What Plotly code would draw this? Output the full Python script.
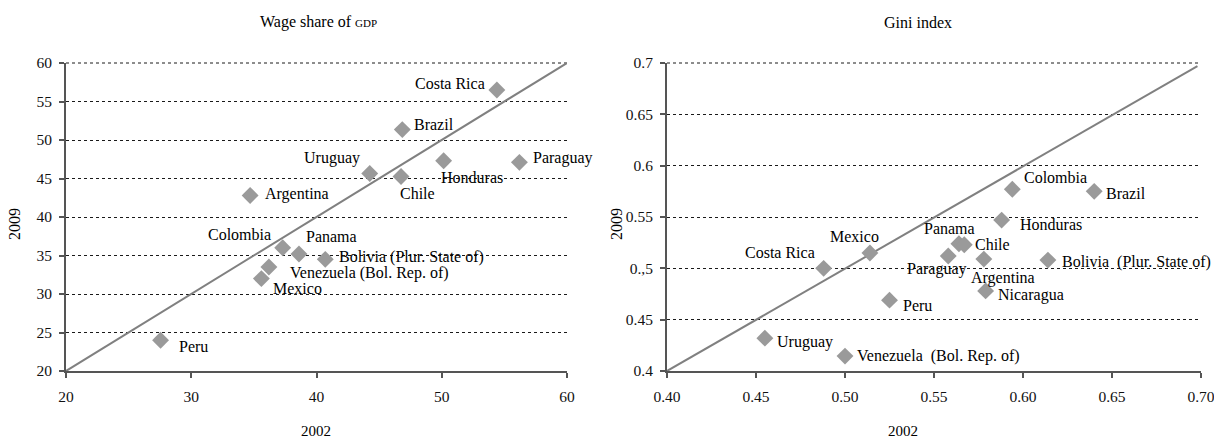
import plotly.graph_objects as go

W, H = 1214, 440

# ---------------- data ----------------
wage_countries = ["Costa Rica", "Brazil", "Uruguay", "Chile", "Honduras", "Paraguay",
                  "Argentina", "Colombia", "Panama", "Bolivia (Plur. State of)",
                  "Venezuela (Bol. Rep. of)", "Mexico", "Peru"]
wage_2002 = [54.4, 46.85, 44.25, 46.75, 50.15, 56.2, 34.7, 37.3, 38.6, 40.7, 36.2, 35.6, 27.55]
wage_2009 = [56.5, 51.35, 45.65, 45.25, 47.3, 47.1, 42.8, 36.0, 35.2, 34.5, 33.5, 32.0, 24.0]

gini_countries = ["Colombia", "Brazil", "Honduras", "Mexico", "Costa Rica", "Panama", "Chile",
                  "Paraguay", "Argentina", "Bolivia\u00a0\u00a0(Plur. State of)", "Nicaragua",
                  "Peru", "Uruguay", "Venezuela\u00a0\u00a0(Bol. Rep. of)"]
gini_2002 = [0.594, 0.640, 0.588, 0.514, 0.488, 0.564, 0.567, 0.558, 0.578, 0.614, 0.579, 0.525, 0.455, 0.500]
gini_2009 = [0.577, 0.575, 0.547, 0.515, 0.500, 0.524, 0.523, 0.512, 0.509, 0.508, 0.478, 0.469, 0.432, 0.4145]

wage_line_x = [20, 60]
wage_line_y = [20, 60]
gini_line_x = [0.40, 0.698]
gini_line_y = [0.40, 0.697]

wage_xticks = [20, 30, 40, 50, 60]
wage_xticklabels = ["20", "30", "40", "50", "60"]
wage_yticks = [20, 25, 30, 35, 40, 45, 50, 55, 60]
wage_yticklabels = ["20", "25", "30", "35", "40", "45", "50", "55", "60"]
gini_xticks = [0.40, 0.45, 0.50, 0.55, 0.60, 0.65, 0.70]
gini_xticklabels = ["0.40", "0.45", "0.50", "0.55", "0.60", "0.65", "0.70"]
gini_yticks = [0.40, 0.45, 0.50, 0.55, 0.60, 0.65, 0.70]
gini_yticklabels = ["0.4", "0.45", "0.,5", "0.55", "0.6", "0.65", "0.7"]

titles = ["Wage share of <span style='font-size:11px'>GDP</span>", "Gini index"]
x_title = "2002"
y_title = "2009"

# label placement (style): (xanchor, xshift px, yshift px)
wage_label_pos = [("right", -10, 6), ("left", 10, 5), ("right", -8, 16), ("left", -3, -17),
                  ("left", -5, -17), ("left", 12, 4), ("left", 13, 1), ("right", -10, 13),
                  ("left", 5, 17), ("left", 12, 2), ("left", 19, -6), ("left", 10, -10),
                  ("left", 16, -6)]
gini_label_pos = [("left", 10, 12), ("left", 10, -2), ("left", 16, -4), ("center", -15, 16),
                  ("right", -7, 16), ("center", -9, 15), ("left", 9, 0), ("center", -11, -13),
                  ("center", 19, -19), ("left", 12, -2), ("left", 10, -4), ("left", 11, -5),
                  ("left", 10, -4), ("left", 10, 0)]

# ---------------- layout geometry ----------------
FONT = "Liberation Serif, Times New Roman, serif"
left_dom = [66 / W, 567 / W]
right_dom = [667 / W, 1201 / W]
y_dom = [1 - 371 / H, 1 - 63 / H]

MARKER_COLOR = "#9a9a9a"
LINE_COLOR = "#808080"
AXIS_COLOR = "#555555"
GRID_COLOR = "#1a1a1a"
TEXT_COLOR = "#000000"

fig = go.Figure()

fig.add_trace(go.Scatter(x=wage_line_x, y=wage_line_y, mode="lines",
                         line=dict(color=LINE_COLOR, width=2), xaxis="x", yaxis="y",
                         hoverinfo="skip", cliponaxis=False))
fig.add_trace(go.Scatter(x=wage_2002, y=wage_2009, mode="markers",
                         marker=dict(symbol="diamond", size=13, color=MARKER_COLOR),
                         xaxis="x", yaxis="y", text=wage_countries, cliponaxis=False))
fig.add_trace(go.Scatter(x=gini_line_x, y=gini_line_y, mode="lines",
                         line=dict(color=LINE_COLOR, width=2), xaxis="x2", yaxis="y2",
                         hoverinfo="skip", cliponaxis=False))
fig.add_trace(go.Scatter(x=gini_2002, y=gini_2009, mode="markers",
                         marker=dict(symbol="diamond", size=13, color=MARKER_COLOR),
                         xaxis="x2", yaxis="y2", text=gini_countries, cliponaxis=False))

axis_common = dict(showline=True, linecolor=AXIS_COLOR, linewidth=2, ticks="outside",
                   ticklen=5, tickcolor=AXIS_COLOR, tickwidth=1.5, zeroline=False,
                   tickfont=dict(family=FONT, size=15.5, color="#111111"), mirror=False,
                   ticklabeloverflow="allow")
grid_y = dict(showgrid=True, gridcolor=GRID_COLOR, gridwidth=1, griddash="3px,3px",
              ticklabelstandoff=4)
x_extra = dict(showgrid=False, ticklabelstandoff=5)

fig.update_layout(
    width=W, height=H, margin=dict(l=0, r=0, t=0, b=0, autoexpand=False),
    paper_bgcolor="white", plot_bgcolor="white", showlegend=False,
    font=dict(family=FONT, size=15, color="#111111"),
    xaxis=dict(domain=left_dom, anchor="y", range=[20, 60], tickmode="array",
               tickvals=wage_xticks, ticktext=wage_xticklabels, **x_extra, **axis_common),
    yaxis=dict(domain=y_dom, anchor="x", range=[20, 60], tickmode="array",
               tickvals=wage_yticks, ticktext=wage_yticklabels, **grid_y, **axis_common),
    xaxis2=dict(domain=right_dom, anchor="y2", range=[0.40, 0.70], tickmode="array",
                tickvals=gini_xticks, ticktext=gini_xticklabels, **x_extra, **axis_common),
    yaxis2=dict(domain=y_dom, anchor="x2", range=[0.40, 0.70], tickmode="array",
                tickvals=gini_yticks, ticktext=gini_yticklabels, **grid_y, **axis_common),
)

# top gridline (plotly omits the gridline at the range edge)
for xr, yr in [("x", "y"), ("x2", "y2")]:
    fig.add_shape(type="line", xref=f"{xr} domain", yref=f"{yr} domain", x0=0, x1=1, y0=1, y1=1,
                  line=dict(color=GRID_COLOR, width=1, dash="3px,3px"), layer="below")

ann = []
for names, xs, ys, pos, xr, yr in [
        (wage_countries, wage_2002, wage_2009, wage_label_pos, "x", "y"),
        (gini_countries, gini_2002, gini_2009, gini_label_pos, "x2", "y2")]:
    for n, xv, yv, (xa, xs_, ys_) in zip(names, xs, ys, pos):
        ann.append(dict(x=xv, y=yv, xref=xr, yref=yr, text=n, showarrow=False,
                        xanchor=xa, yanchor="middle", xshift=xs_, yshift=ys_,
                        font=dict(family=FONT, size=16, color=TEXT_COLOR)))

# titles and axis titles (paper coordinates)
def P(px, py):
    return px / W, 1 - py / H

for t, cx in zip(titles, [318, 918]):
    x, y = P(cx, 22)
    ann.append(dict(x=x, y=y, xref="paper", yref="paper", text=t, showarrow=False,
                    xanchor="center", yanchor="middle", font=dict(family=FONT, size=16, color=TEXT_COLOR)))
for cx in [316, 903]:
    x, y = P(cx, 431)
    ann.append(dict(x=x, y=y, xref="paper", yref="paper", text=x_title, showarrow=False,
                    xanchor="center", yanchor="middle", font=dict(family=FONT, size=15, color=TEXT_COLOR)))
for cx in [15, 617]:
    x, y = P(cx, 224)
    ann.append(dict(x=x, y=y, xref="paper", yref="paper", text=y_title, showarrow=False,
                    textangle=-90, xanchor="center", yanchor="middle",
                    font=dict(family=FONT, size=16, color=TEXT_COLOR)))

fig.update_layout(annotations=ann)
fig.write_html("out.html",
               post_script="document.body.style.margin='0';document.body.style.overflow='hidden';")
